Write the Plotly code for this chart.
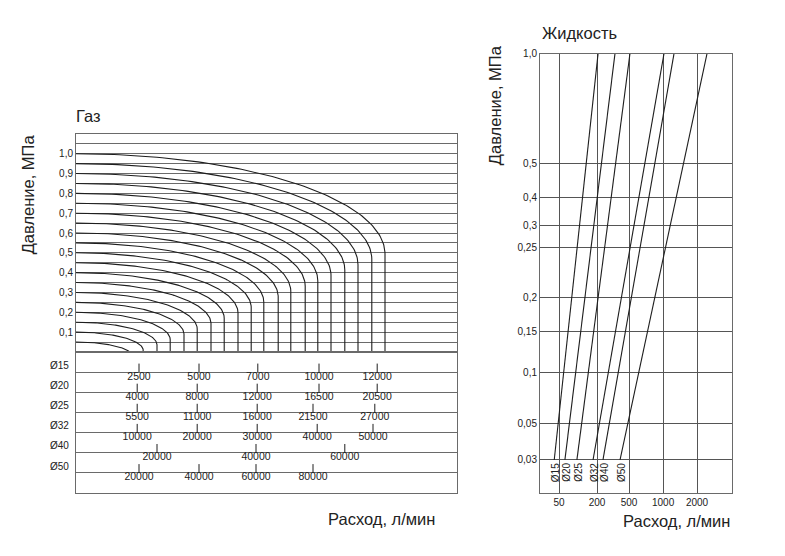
import numpy as np
import plotly.graph_objects as go

W, H = 785, 556
OX, OY = 8, 11          # page offset of the plot div inside the browser window
FONT = "Liberation Sans, Arial, sans-serif"
TXT = "#222222"
GRID = "#6a6a6a"
INK = "#1e1e1e"

# ---------------- Gas panel data ----------------
GAS_P_TICKS = [0.1, 0.2, 0.3, 0.4, 0.5, 0.6, 0.7, 0.8, 0.9, 1.0]
GAS_P_TEXT = ["0,1", "0,2", "0,3", "0,4", "0,5", "0,6", "0,7", "0,8", "0,9", "1,0"]
GAS_P_MINOR = [0.05, 0.15, 0.25, 0.35, 0.45, 0.55, 0.65, 0.75, 0.85, 0.95, 1.05]

# inlet pressure of each characteristic (MPa) and its choked flow read off the
# drawing, expressed on the Ø32 flow scale (l/min)
GAS_START_PRESSURE = [0.05, 0.10, 0.15, 0.20, 0.25, 0.30, 0.35, 0.40, 0.45, 0.50,
                      0.55, 0.60, 0.65, 0.70, 0.75, 0.80, 0.85, 0.90, 0.95, 1.00]
GAS_CHOKE_FLOW = [9300, 11200, 13500, 15700, 18000, 20200, 22500, 24700, 27000, 29200,
                  31300, 33700, 35800, 38200, 40300, 42500, 44800, 47000, 49300, 51500]
GAS_CRIT_RATIO = 0.54     # critical pressure ratio b read from the knees
P_ATM = 0.1               # MPa, gauge -> absolute
GAS_FLOW_MAX = 63500      # right edge of the panel on the Ø32 scale

GAS_ROWS = ["Ø15", "Ø20", "Ø25", "Ø32", "Ø40", "Ø50"]
GAS_ROW_VALUES = [
    [2500, 5000, 7000, 10000, 12000],
    [4000, 8000, 12000, 16500, 20500],
    [5500, 11000, 16000, 21500, 27000],
    [10000, 20000, 30000, 40000, 50000],
    [20000, 40000, 60000],
    [20000, 40000, 60000, 80000],
]
# where each row value sits, read against the Ø32 flow scale (l/min)
GAS_ROW_ALIGN = [
    [10500, 20500, 30300, 40500, 50200],
    [10200, 20200, 30200, 40500, 50200],
    [10200, 20200, 30200, 39500, 49800],
    [10200, 20200, 30200, 40200, 49500],
    [13500, 30000, 44800],
    [10500, 20500, 30000, 39500],
]

# ---------------- Liquid panel data ----------------
LIQ_P_TICKS = [0.03, 0.05, 0.1, 0.15, 0.2, 0.25, 0.3, 0.4, 0.5, 1.0]
LIQ_P_TEXT = ["0,03", "0,05", "0,1", "0,15", "0,2", "0,25", "0,3", "0,4", "0,5", "1,0"]
LIQ_Q_TICKS = [50, 200, 500, 1000, 2000]
LIQ_Q_TEXT = ["50", "200", "500", "1000", "2000"]
LIQ_SIZES = ["Ø15", "Ø20", "Ø25", "Ø32", "Ø40", "Ø50"]
LIQ_FLOW_AT_LOW = [42, 62, 96, 173, 237, 386]          # l/min at 0.03 MPa
LIQ_FLOW_AT_HIGH = [206, 334, 509, 1019, 1250, 2450]   # l/min at 1.0 MPa
LIQ_P_LOW, LIQ_P_HIGH = 0.03, 1.0

# the nomogram's own (non-uniform) scales: relative position of each tick
LIQ_P_SCALE = [0.0745, 0.158, 0.273, 0.366, 0.445, 0.558, 0.609, 0.673, 0.749, 1.0]
LIQ_Q_SCALE = [0.099, 0.297, 0.464, 0.641, 0.818]


def px_x(x):
    return (x - OX) / W


def px_y(y):
    return 1 - (y - OY) / H


def nomo(v, ticks, scale):
    lv = np.log10(np.asarray(v, dtype=float))
    lt = np.log10(np.asarray(ticks, dtype=float))
    s = np.asarray(scale, dtype=float)
    out = np.interp(lv, lt, s)
    lo = lv < lt[0]
    hi = lv > lt[-1]
    out = np.where(lo, s[0] + (lv - lt[0]) * (s[1] - s[0]) / (lt[1] - lt[0]), out)
    out = np.where(hi, s[-1] + (lv - lt[-1]) * (s[-1] - s[-2]) / (lt[-1] - lt[-2]), out)
    return out


def gas_characteristic(p0, qmax, b=GAS_CRIT_RATIO, n=90):
    """ISO 6358 flow characteristic: outlet pressure vs flow for inlet p0."""
    pa = p0 + P_ATM
    r_end = max(b, P_ATM / pa)
    th_end = np.arccos((r_end - b) / (1 - b))
    th = np.linspace(0, th_end, n)
    r = b + (1 - b) * np.cos(th)
    q = list(qmax * np.sin(th))
    p = list(r * pa - P_ATM)
    if r_end == b:
        q.append(qmax)
        p.append(0.0)
    return q, p


fig = go.Figure()

# gas characteristics
gx, gy = [], []
for p0, qm in zip(GAS_START_PRESSURE, GAS_CHOKE_FLOW):
    q, p = gas_characteristic(p0, qm)
    gx += q + [None]
    gy += p + [None]
fig.add_trace(go.Scatter(x=gx, y=gy, mode="lines", xaxis="x", yaxis="y",
                         line=dict(color=INK, width=1.1), hoverinfo="skip"))

# table ticks and labels
tx, ty, lx, ly, lt = [], [], [], [], []
for k, (vals, al) in enumerate(zip(GAS_ROW_VALUES, GAS_ROW_ALIGN), start=1):
    for v, a in zip(vals, al):
        tx += [a, a, None]
        ty += [k - 0.42, k, None]
        lx.append(a)
        ly.append(k)
        lt.append(str(v))
fig.add_trace(go.Scatter(x=tx, y=ty, mode="lines", xaxis="x2", yaxis="y2",
                         line=dict(color=INK, width=1), hoverinfo="skip"))
fig.add_trace(go.Scatter(x=lx, y=ly, text=lt, mode="text", textposition="bottom center",
                         xaxis="x2", yaxis="y2", textfont=dict(size=10.5, color=TXT, family=FONT),
                         hoverinfo="skip"))

# liquid lines
for name, ql, qh in zip(LIQ_SIZES, LIQ_FLOW_AT_LOW, LIQ_FLOW_AT_HIGH):
    xs = nomo([ql, qh], LIQ_Q_TICKS, LIQ_Q_SCALE)
    ys = nomo([LIQ_P_LOW, LIQ_P_HIGH], LIQ_P_TICKS, LIQ_P_SCALE)
    fig.add_trace(go.Scatter(x=xs, y=ys, mode="lines", xaxis="x3", yaxis="y3",
                             line=dict(color=INK, width=1.1), hoverinfo="skip", name=name))

ann = []
# liquid size labels (rotated, under the 0.03 line)
y_low = float(nomo([LIQ_P_LOW], LIQ_P_TICKS, LIQ_P_SCALE)[0])
for name, ql in zip(LIQ_SIZES, LIQ_FLOW_AT_LOW):
    x0 = float(nomo([ql], LIQ_Q_TICKS, LIQ_Q_SCALE)[0])
    ann.append(dict(x=x0, y=y_low, xref="x3", yref="y3", text=name, textangle=-90,
                    showarrow=False, xanchor="center", yanchor="top", xshift=1.5, yshift=-1,
                    font=dict(size=10, color=TXT, family=FONT)))
# gas table row names
for k, name in enumerate(GAS_ROWS, start=1):
    ann.append(dict(x=px_x(71), y=k, xref="paper", yref="y2", text=name, showarrow=False,
                    xanchor="right", yanchor="bottom", yshift=-1,
                    font=dict(size=10, color=TXT, family=FONT)))

TITLE = dict(size=16.5, color=TXT, family=FONT)
ann += [
    dict(x=px_x(74), y=px_y(115), xref="paper", yref="paper", text="Газ", showarrow=False,
         xanchor="left", yanchor="middle", font=TITLE),
    dict(x=px_x(540), y=px_y(31), xref="paper", yref="paper", text="Жидкость", showarrow=False,
         xanchor="left", yanchor="middle", font=TITLE),
    dict(x=px_x(28), y=px_y(194), xref="paper", yref="paper", text="Давление, МПа",
         textangle=-90, showarrow=False, xanchor="center", yanchor="middle", font=TITLE),
    dict(x=px_x(495), y=px_y(104), xref="paper", yref="paper", text="Давление, МПа",
         textangle=-90, showarrow=False, xanchor="center", yanchor="middle", font=TITLE),
    dict(x=px_x(437), y=px_y(522), xref="paper", yref="paper", text="Расход, л/мин",
         showarrow=False, xanchor="right", yanchor="middle", font=TITLE),
    dict(x=px_x(732), y=px_y(524), xref="paper", yref="paper", text="Расход, л/мин",
         showarrow=False, xanchor="right", yanchor="middle", font=TITLE),
]

gas_xdom = [px_x(76), px_x(457)]
line_kw = dict(showline=True, mirror=True, linecolor=GRID, linewidth=1, zeroline=False)

fig.update_layout(
    width=W, height=H, autosize=False,
    margin=dict(l=0, r=0, t=0, b=0),
    paper_bgcolor="white", plot_bgcolor="white",
    showlegend=False,
    font=dict(family=FONT, color=TXT, size=10),
    annotations=ann,
    xaxis=dict(domain=gas_xdom, range=[0, GAS_FLOW_MAX], anchor="y", showticklabels=False,
               showgrid=False, ticks="", **line_kw),
    yaxis=dict(domain=[px_y(353), px_y(133)], range=[0, 1.1], anchor="x",
               tickmode="array", tickvals=GAS_P_TICKS, ticktext=GAS_P_TEXT, ticks="",
               showgrid=True, gridcolor=GRID, gridwidth=1,
               minor=dict(tickmode="array", tickvals=GAS_P_MINOR, showgrid=True,
                          gridcolor=GRID, gridwidth=1, ticks=""),
               tickfont=dict(size=10, color=TXT), **line_kw),
    xaxis2=dict(domain=gas_xdom, range=[0, GAS_FLOW_MAX], anchor="y2", showticklabels=False,
                showgrid=False, ticks="", **line_kw),
    yaxis2=dict(domain=[px_y(495), px_y(353)], range=[7, 0], anchor="x2",
                tickmode="array", tickvals=[1, 2, 3, 4, 5, 6], showticklabels=False, ticks="",
                showgrid=True, gridcolor=GRID, gridwidth=1, **line_kw),
    xaxis3=dict(domain=[px_x(540), px_x(732)], range=[0, 1], anchor="y3",
                tickmode="array", tickvals=list(nomo(LIQ_Q_TICKS, LIQ_Q_TICKS, LIQ_Q_SCALE)),
                ticktext=LIQ_Q_TEXT, ticks="", showgrid=True, gridcolor="#555555", gridwidth=1,
                tickfont=dict(size=10, color=TXT), **line_kw),
    yaxis3=dict(domain=[px_y(495), px_y(52)], range=[0, 1], anchor="x3",
                tickmode="array", tickvals=list(nomo(LIQ_P_TICKS, LIQ_P_TICKS, LIQ_P_SCALE)),
                ticktext=LIQ_P_TEXT, ticks="", showgrid=True, gridcolor="#555555", gridwidth=1,
                tickfont=dict(size=10, color=TXT), **line_kw),
)

fig.write_html("out.html")
